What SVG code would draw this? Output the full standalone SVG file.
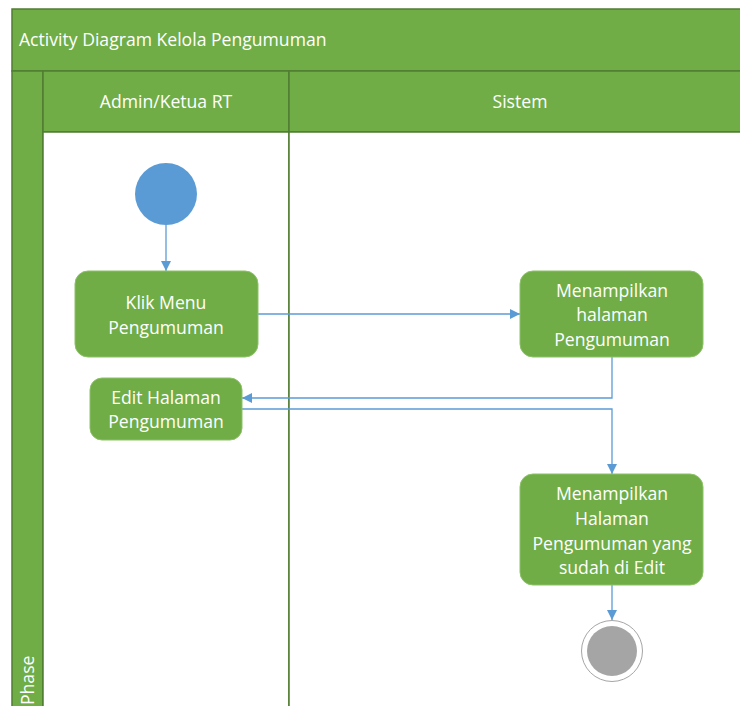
<svg xmlns="http://www.w3.org/2000/svg" width="740" height="706" viewBox="0 0 740 706">
<defs>
<style>
.lane{fill:#70AD47;stroke:#507E32;stroke-width:1.5}
.body{fill:#FFFFFF;stroke:#507E32;stroke-width:1.5}
.act{fill:#70AD47;stroke:#8CC168;stroke-width:1}
.t{font-family:"Open Sans","Noto Sans",sans-serif;font-size:17.6px;fill:#FFFFFF}
.c{text-anchor:middle}
.edge{fill:none;stroke:#5B9BD5;stroke-width:1.3}
</style>
<marker id="arr" viewBox="0 0 10 10" refX="10" refY="5" markerWidth="10" markerHeight="10" markerUnits="userSpaceOnUse" orient="auto">
<path d="M0,0 L10,5 L0,10 z" fill="#5B9BD5"/>
</marker>
</defs>
<rect x="0" y="0" width="740" height="706" fill="#FFFFFF"/>
<g id="pool">
<rect class="lane" x="12" y="9" width="740" height="62"/>
<text class="t" x="19" y="46">Activity Diagram Kelola Pengumuman</text>
<rect class="lane" x="12" y="71" width="31" height="650"/>
<text class="t" transform="translate(34,705) rotate(-90)">Phase</text>
</g>
<g id="lane-admin">
<rect class="lane" x="43" y="71" width="246" height="61"/>
<rect class="body" x="43" y="132" width="246" height="590"/>
<text class="t c" x="166" y="108">Admin/Ketua RT</text>
</g>
<g id="lane-sistem">
<rect class="lane" x="289" y="71" width="462" height="61"/>
<rect class="body" x="289" y="132" width="462" height="590"/>
<text class="t c" x="520" y="108">Sistem</text>
</g>
<g id="edges">
<path class="edge" d="M166,225 V271" marker-end="url(#arr)"/>
<path class="edge" d="M258,314 H520" marker-end="url(#arr)"/>
<path class="edge" d="M612,357 V398 H242" marker-end="url(#arr)"/>
<path class="edge" d="M242,409 H612 V474" marker-end="url(#arr)"/>
<path class="edge" d="M612,585 V620" marker-end="url(#arr)"/>
</g>
<g id="start">
<circle cx="166" cy="194" r="31" fill="#5B9BD5"/>
</g>
<g id="klik-menu">
<rect class="act" x="75" y="271" width="183" height="86" rx="13"/>
<text class="t c" x="166" y="309">Klik Menu</text>
<text class="t c" x="166" y="334">Pengumuman</text>
</g>
<g id="tampil-halaman">
<rect class="act" x="520" y="271" width="183" height="86" rx="13"/>
<text class="t c" x="612" y="297">Menampilkan</text>
<text class="t c" x="612" y="321">halaman</text>
<text class="t c" x="612" y="346">Pengumuman</text>
</g>
<g id="edit-halaman">
<rect class="act" x="90" y="378" width="152" height="62" rx="12"/>
<text class="t c" x="166" y="404">Edit Halaman</text>
<text class="t c" x="166" y="428">Pengumuman</text>
</g>
<g id="tampil-edit">
<rect class="act" x="520" y="474" width="183" height="111" rx="13"/>
<text class="t c" x="612" y="500">Menampilkan</text>
<text class="t c" x="612" y="525">Halaman</text>
<text class="t c" x="612" y="550">Pengumuman yang</text>
<text class="t c" x="612" y="574">sudah di Edit</text>
</g>
<g id="end">
<circle cx="612" cy="651" r="30.5" fill="#FFFFFF" stroke="#A5A5A5" stroke-width="1"/>
<circle cx="612" cy="651" r="25" fill="#A5A5A5"/>
</g>
</svg>
